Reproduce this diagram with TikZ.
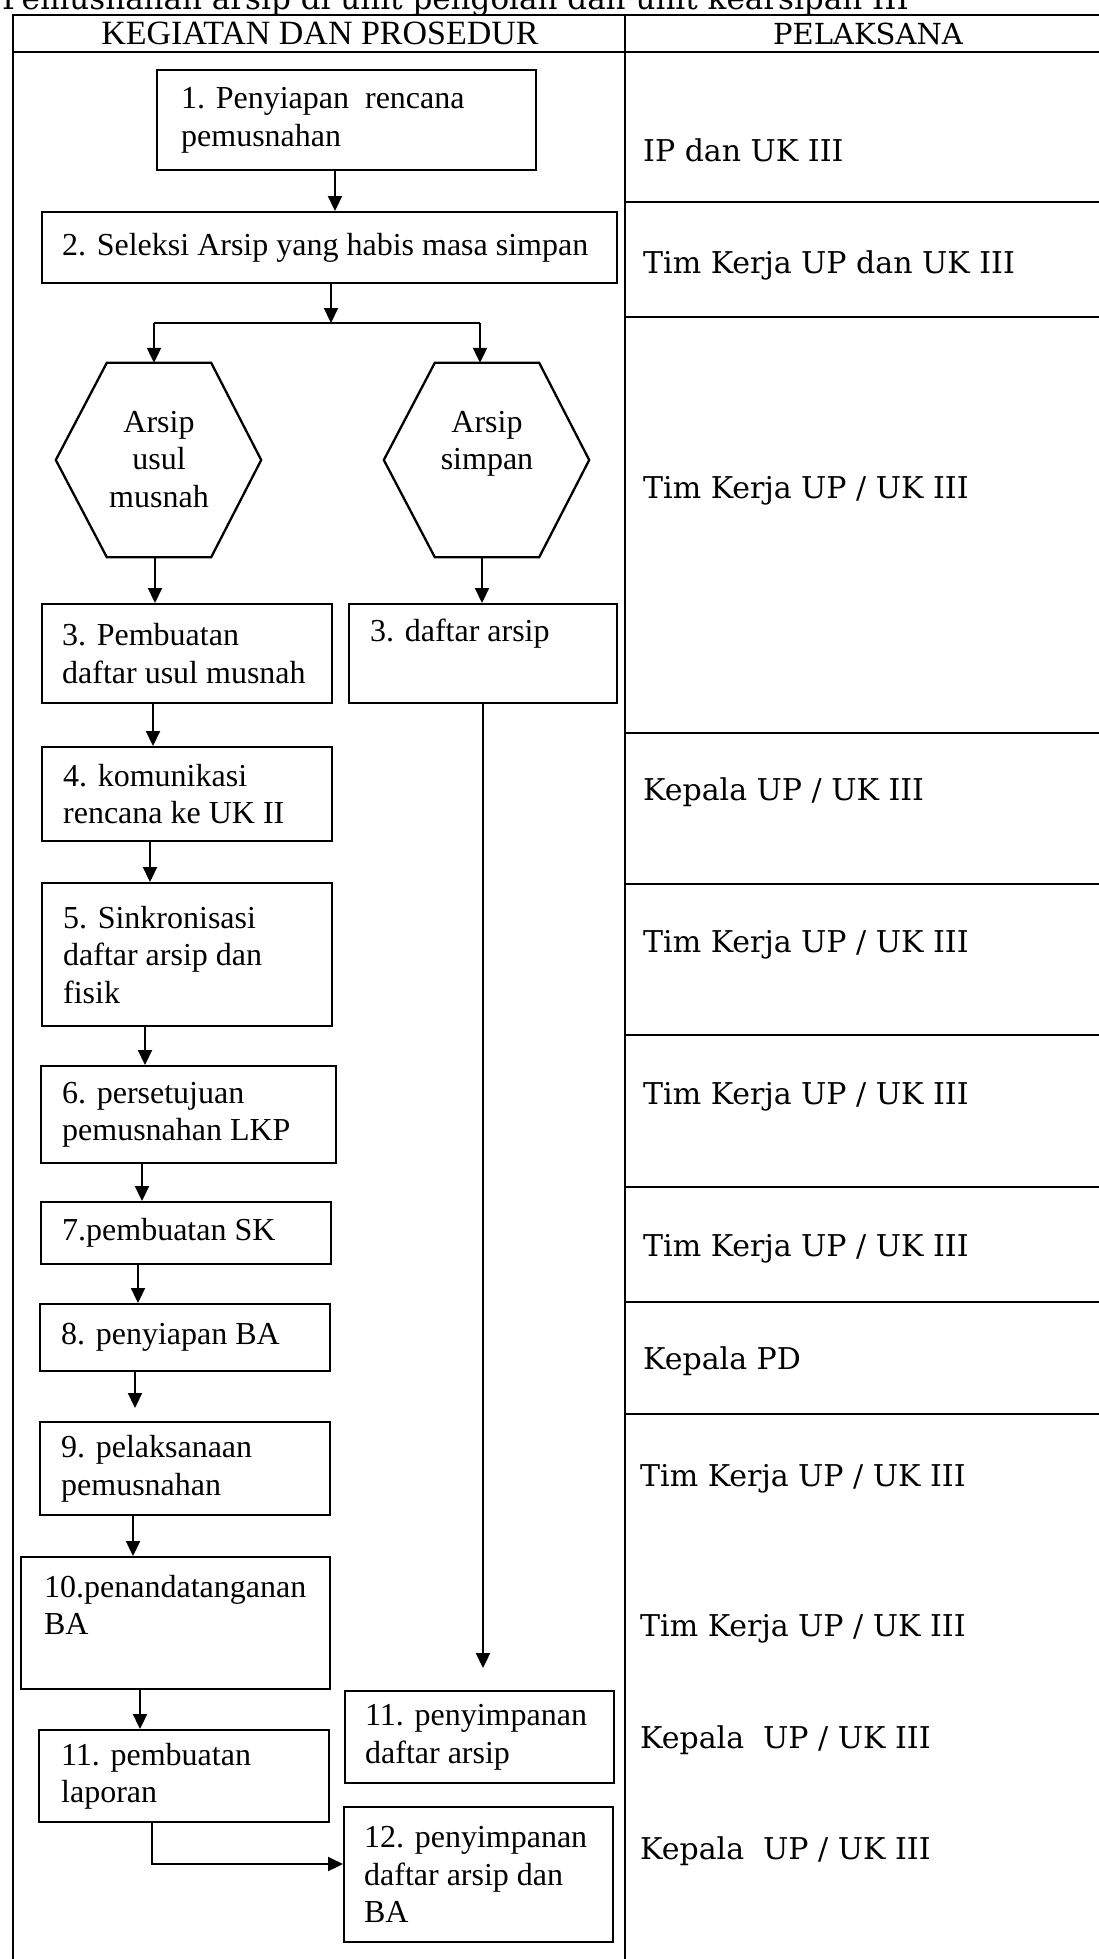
\documentclass[tikz,border=0pt]{standalone}
\usepackage{fontspec}
\setmainfont{Liberation Serif}
\newfontfamily\bkfont{DejaVu Serif}
\usetikzlibrary{arrows.meta}
\newcommand\bx[5]{\parbox[c][#2pt][#4]{#1pt}{\raggedright\leftskip=#3pt\relax #5}}
\begin{document}
\begin{tikzpicture}[x=1pt,y=-1pt,
  tline/.style={line width=2pt},
  boxnode/.style={draw, line width=2.3pt, anchor=north west, inner sep=0pt, font=\fontsize{32}{37.5}\selectfont},
  hexnode/.style={inner sep=0pt, font=\fontsize{32}{37.5}\selectfont},
  hexline/.style={line width=2.3pt, line join=miter},
  arr/.style={line width=2.2pt, -{Triangle[length=15pt,width=14pt]}},
  conn/.style={line width=2.2pt},
  lbl/.style={anchor=base west, inner sep=0pt, font=\bkfont\fontsize{30}{36}\selectfont},
  hdr/.style={anchor=base, inner sep=0pt},
]
\useasboundingbox (0,0) rectangle (1099,1959);
\begin{scope}
\clip (0,0) rectangle (1099,1959);
\node[anchor=base west, inner sep=0pt, font=\bkfont\fontsize{31}{37}\selectfont] (title) at (2,10) {Pemusnahan arsip di unit pengolah dan unit kearsipan III};
\draw[tline] (13,1970) -- (13,15) -- (1110,15);
\draw[tline] (13,52) -- (1110,52);
\draw[tline] (625,15) -- (625,1970);
\foreach \yy in {202,317,733,884,1035,1187,1302,1414} \draw[tline] (625,\yy) -- (1110,\yy);
\end{scope}

% header
\node[hdr, font=\fontsize{34}{40}\selectfont] (hk) at (320,45) {KEGIATAN DAN PROSEDUR};
\node[hdr, font=\bkfont\fontsize{29}{35}\selectfont] (hp) at (868,45) {PELAKSANA};

% pelaksana column
\node[lbl] (p1) at (643,161) {IP dan UK III};
\node[lbl] (p2) at (643,273) {Tim Kerja UP dan UK III};
\node[lbl] (p3) at (643,498) {Tim Kerja UP / UK III};
\node[lbl] (p4) at (643,800) {Kepala UP / UK III};
\node[lbl] (p5) at (643,952) {Tim Kerja UP / UK III};
\node[lbl] (p6) at (643,1104) {Tim Kerja UP / UK III};
\node[lbl] (p7) at (643,1256) {Tim Kerja UP / UK III};
\node[lbl] (p8) at (643,1369) {Kepala PD};
\node[lbl] (p9) at (640,1486) {Tim Kerja UP / UK III};
\node[lbl] (p10) at (640,1636) {Tim Kerja UP / UK III};
\node[lbl] (p11) at (640,1748) {Kepala\ \ UP / UK III};
\node[lbl] (p12) at (640,1859) {Kepala\ \ UP / UK III};

% boxes
\node[boxnode] (b1) at (156,69) {\bx{379}{100}{24}{c}{1. Penyiapan\ \ rencana\\pemusnahan}};
\node[boxnode] (b2) at (41,211) {\bx{575}{71}{20}{c}{2. Seleksi Arsip yang habis masa simpan}};
\node[hexnode] (h1) at (159,460) {\parbox[c][194pt][t]{104pt}{\centering\vspace*{48pt}Arsip\\usul\\musnah}};
\node[hexnode] (h2) at (487,460) {\parbox[c][194pt][t]{104pt}{\centering\vspace*{48pt}Arsip\\simpan}};
\draw[hexline] (h1.north west) -- (h1.north east) -- ([xshift=50pt]h1.east) -- (h1.south east) -- (h1.south west) -- ([xshift=-51pt]h1.west) -- cycle;
\draw[hexline] (h2.north west) -- (h2.north east) -- ([xshift=50pt]h2.east) -- (h2.south east) -- (h2.south west) -- ([xshift=-51pt]h2.west) -- cycle;
\node[boxnode] (b3a) at (41,603) {\bx{290}{99}{20}{c}{3. Pembuatan\\daftar usul musnah}};
\node[boxnode] (b3b) at (348,603) {\bx{268}{99}{21}{t}{\vspace*{15pt}3. daftar arsip}};
\node[boxnode] (b4) at (41,746) {\bx{290}{94}{21}{c}{4. komunikasi\\rencana ke UK II}};
\node[boxnode] (b5) at (41,882) {\bx{290}{143}{21}{c}{5. Sinkronisasi\\daftar arsip dan\\fisik}};
\node[boxnode] (b6) at (40,1065) {\bx{295}{97}{21}{c}{6. persetujuan\\pemusnahan LKP}};
\node[boxnode] (b7) at (40,1201) {\bx{290}{62}{21}{c}{7.pembuatan SK}};
\node[boxnode] (b8) at (39,1303) {\bx{290}{67}{21}{c}{8. penyiapan BA}};
\node[boxnode] (b9) at (39,1421) {\bx{290}{93}{21}{c}{9. pelaksanaan\\pemusnahan}};
\node[boxnode] (b10) at (20,1556) {\bx{309}{132}{23}{t}{\vspace*{18pt}10.penandatanganan\\BA}};
\node[boxnode] (b11a) at (38,1729) {\bx{290}{92}{22}{c}{11. pembuatan\\laporan}};
\node[boxnode] (b11b) at (344,1690) {\bx{269}{92}{20}{c}{11. penyimpanan\\daftar arsip}};
\node[boxnode] (b12) at (343,1806) {\bx{269}{135}{20}{c}{12. penyimpanan\\daftar arsip dan\\BA}};

% connectors
\coordinate (c12) at (335,0);
\draw[arr] (b1.south -| c12) -- (b2.north -| c12);
\coordinate (sp) at (331,323);
\coordinate (spl) at (154,323);
\coordinate (spr) at (480,323);
\draw[arr] (b2.south -| sp) -- (sp);
\draw[conn] (spl) -- (spr);
\draw[arr] (spl) -- (h1.north -| spl);
\draw[arr] (spr) -- (h2.north -| spr);
\coordinate (c3l) at (155,0);
\draw[arr] (h1.south -| c3l) -- (b3a.north -| c3l);
\coordinate (c3r) at (482,0);
\draw[arr] (h2.south -| c3r) -- (b3b.north -| c3r);
\coordinate (lend) at (483,1668);
\draw[arr] (b3b.south -| lend) -- (lend);
\coordinate (c34) at (153,0);
\draw[arr] (b3a.south -| c34) -- (b4.north -| c34);
\coordinate (c45) at (150,0);
\draw[arr] (b4.south -| c45) -- (b5.north -| c45);
\coordinate (c56) at (145,0);
\draw[arr] (b5.south -| c56) -- (b6.north -| c56);
\coordinate (c67) at (142,0);
\draw[arr] (b6.south -| c67) -- (b7.north -| c67);
\coordinate (c78) at (138,0);
\draw[arr] (b7.south -| c78) -- (b8.north -| c78);
\coordinate (g89) at (135,1408);
\draw[arr] (b8.south -| g89) -- (g89);
\coordinate (c910) at (133,0);
\draw[arr] (b9.south -| c910) -- (b10.north -| c910);
\coordinate (c1011) at (140,0);
\draw[arr] (b10.south -| c1011) -- (b11a.north -| c1011);
\coordinate (k) at (152,1864);
\draw[arr] (b11a.south -| k) -- (k) -- (k -| b12.west);
\end{tikzpicture}
\end{document}
